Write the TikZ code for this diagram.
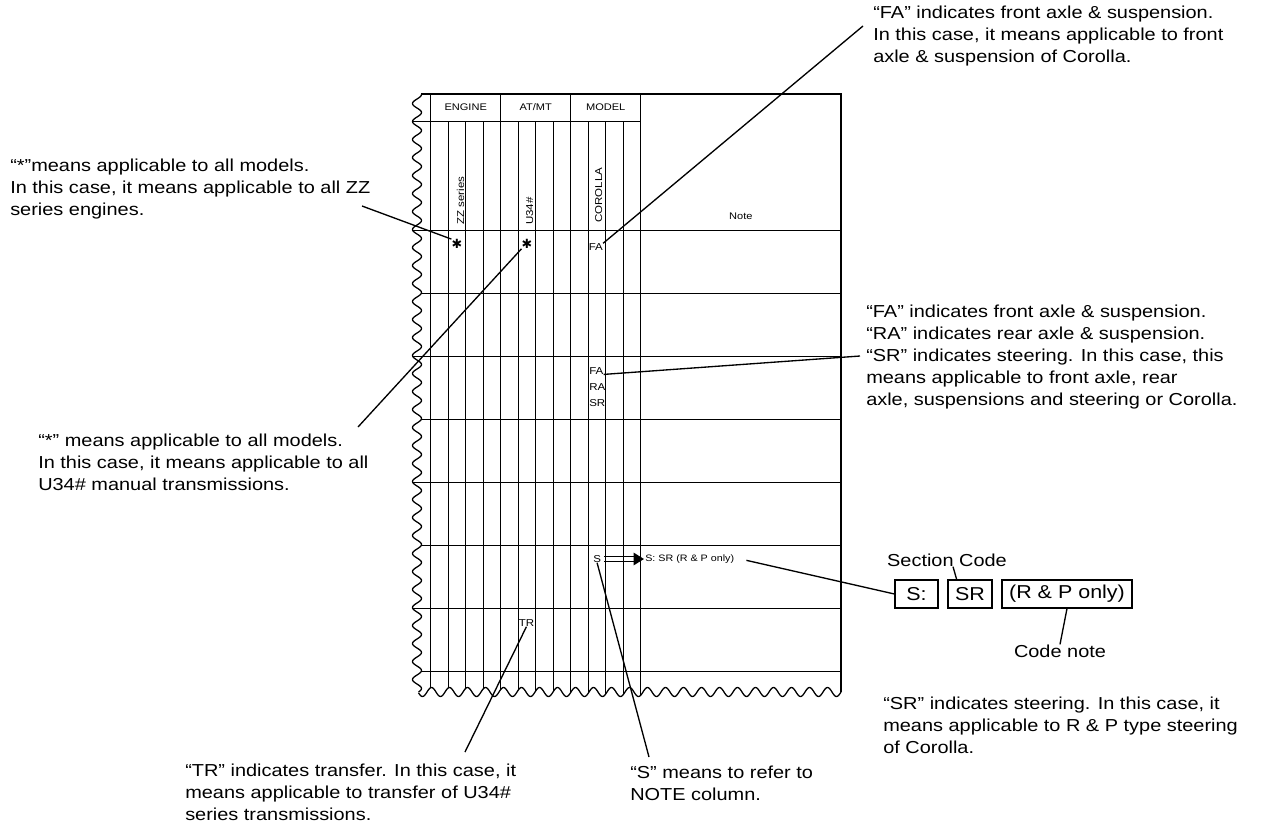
\documentclass[tikz,border=0pt]{standalone}
\usepackage{fontspec}
\setmainfont{Liberation Sans}[FakeStretch=1.15]
\newfontfamily\symfont{DejaVu Sans}
\usetikzlibrary{arrows.meta}
\begin{document}
\begin{tikzpicture}[x=0.75pt,y=-0.75pt,
  border/.style={line width=0.95pt},
  gridline/.style={line width=0.75pt},
  leader/.style={line width=1pt},
  note/.style={font=\fontsize{13}{16.5}\selectfont, align=left, anchor=north west, inner sep=0pt},
  label/.style={font=\fontsize{13}{16.5}\selectfont, inner sep=0pt},
  head/.style={font=\fontsize{7.2}{8}\selectfont, inner sep=0pt},
  vlabel/.style={font=\fontsize{7.5}{9}\selectfont, rotate=90, anchor=base west, inner sep=0pt},
  cell/.style={font=\fontsize{7.5}{9}\selectfont, inner sep=0pt, anchor=west},
  starmark/.style={font=\symfont\fontsize{9.5}{9.5}\selectfont, inner sep=0pt},
  codebox/.style={draw, line width=0.8pt, minimum height=21pt, inner sep=0pt, font=\fontsize{14}{16}\selectfont}
]
\useasboundingbox (0,0) rectangle (1286,826);

% ---------- table frame ----------
\draw[border] plot[domain=94:692, samples=700] ({417+4.5*sin(20*(\x-90))}, \x);
\draw[border] plot[domain=418.5:841, samples=500] (\x, {692+4.5*sin(20*(\x-400))});
\draw[border] ({417+4.5*sin(20*(94-90))},94) -- (841,94) -- (841,{692+4.5*sin(20*(841-400))});

\foreach \k in {0,...,12}{
  \pgfmathsetmacro\xx{430.7+17.5*\k}
  \pgfmathsetmacro\ytop{(mod(\k,4)==0) ? 94 : 121}
  \draw[gridline] (\xx,\ytop) -- (\xx,{692+4.5*sin(20*(\xx-400))});
}
\draw[gridline] ({417+4.5*sin(20*(121-90))},121) -- (640.7,121);
\foreach \yy in {230,293,...,671}
  \draw[gridline] ({417+4.5*sin(20*(\yy-90))},\yy) -- (841,\yy);

% ---------- table texts ----------
\node[head] (eng) at (465.7,107.5) {ENGINE};
\node[head] (atmt) at (535.7,107.5) {AT/MT};
\node[head] (model) at (605.7,107.5) {MODEL};
\node[head] (notehead) at (740.8,216) {Note};

\node[vlabel] (zz) at (464,225) {ZZ series};
\node[vlabel] (u34) at (533,225) {U34\#};
\node[vlabel] (cor) at (602,223) {COROLLA};

\node[starmark] (st1) at (457,244) {✱};
\node[starmark] (st2) at (527,244) {✱};
\node[cell] (fa1) at (588.5,247) {FA};
\node[cell] (fa2) at (589,370.7) {FA};
\node[cell] (ra) at (589,386.7) {RA};
\node[cell] (sr) at (589,402.7) {SR};
\node[cell] (s) at (593,559) {S};
\node[cell, font=\fontsize{7}{8}\selectfont] (snote) at (645,559) {S: SR (R \& P only)};
\node[cell] (tr) at (518.5,623) {TR};

% double arrow S => note
\draw[line width=1pt] ([xshift=2pt,yshift=2pt]s.east) -- ([xshift=-7pt,yshift=2pt]snote.west);
\draw[line width=1pt] ([xshift=2pt,yshift=-2pt]s.east) -- ([xshift=-7pt,yshift=-2pt]snote.west);
\fill ([xshift=-8.5pt,yshift=4.8pt]snote.west) -- ([xshift=-0.8pt]snote.west) -- ([xshift=-8.5pt,yshift=-4.8pt]snote.west) -- cycle;

% ---------- callout texts ----------
\node[note] (tA) at (10,158.5) {“*”means applicable to all models.\\In this case, it means applicable to all ZZ\\series engines.};
\node[note] (tB) at (38,433.5) {“*” means applicable to all models.\\In this case, it means applicable to all\\U34\# manual transmissions.};
\node[note] (tC) at (873,5.5) {“FA” indicates front axle \& suspension.\\In this case, it means applicable to front\\axle \& suspension of Corolla.};
\node[note] (tD) at (866,304.5) {“FA” indicates front axle \& suspension.\\“RA” indicates rear axle \& suspension.\\“SR” indicates steering. In this case, this\\means applicable to front axle, rear\\axle, suspensions and steering or Corolla.};
\node[note] (tF) at (883,696.5) {“SR” indicates steering. In this case, it\\means applicable to R \& P type steering\\of Corolla.};
\node[note] (tG) at (185,763.5) {“TR” indicates transfer. In this case, it\\means applicable to transfer of U34\#\\series transmissions.};
\node[note] (tH) at (630,765.5) {“S” means to refer to\\NOTE column.};

% ---------- code boxes ----------
\node[codebox, minimum width=32.25pt] (bS) at (916.5,594) {S:};
\node[codebox, minimum width=33pt] (bSR) at (970,594) {SR};
\node[codebox, minimum width=97.5pt] (bRP) at (1067,594) {(R \& P only)};
\node[label] (sc) at (947,560) {Section Code};
\node[label] (cn) at (1060,651) {Code note};

% ---------- leaders ----------
\coordinate (eA) at (362,206);
\coordinate (eB) at (358,427);
\coordinate (eC) at (863,26);
\coordinate (eD) at (860,356);
\coordinate (eG) at (465,752);
\coordinate (eH) at (649,757);
\draw[leader] (eA) -- (st1.north west);
\draw[leader] (st2.south west) -- (eB);
\draw[leader] (fa1.north east) -- (eC);
\draw[leader] (fa2.south east) -- (eD);
\draw[leader] (s.south) -- (eH);
\draw[leader] (tr.south) -- (eG);
\draw[leader] ([xshift=9pt,yshift=-1pt]snote.east) -- (bS.west);
\draw[leader] ([xshift=4.5pt]sc.south) -- ([xshift=-10pt]bSR.north);
\draw[leader] (bRP.south) -- (cn.north);
\end{tikzpicture}
\end{document}
